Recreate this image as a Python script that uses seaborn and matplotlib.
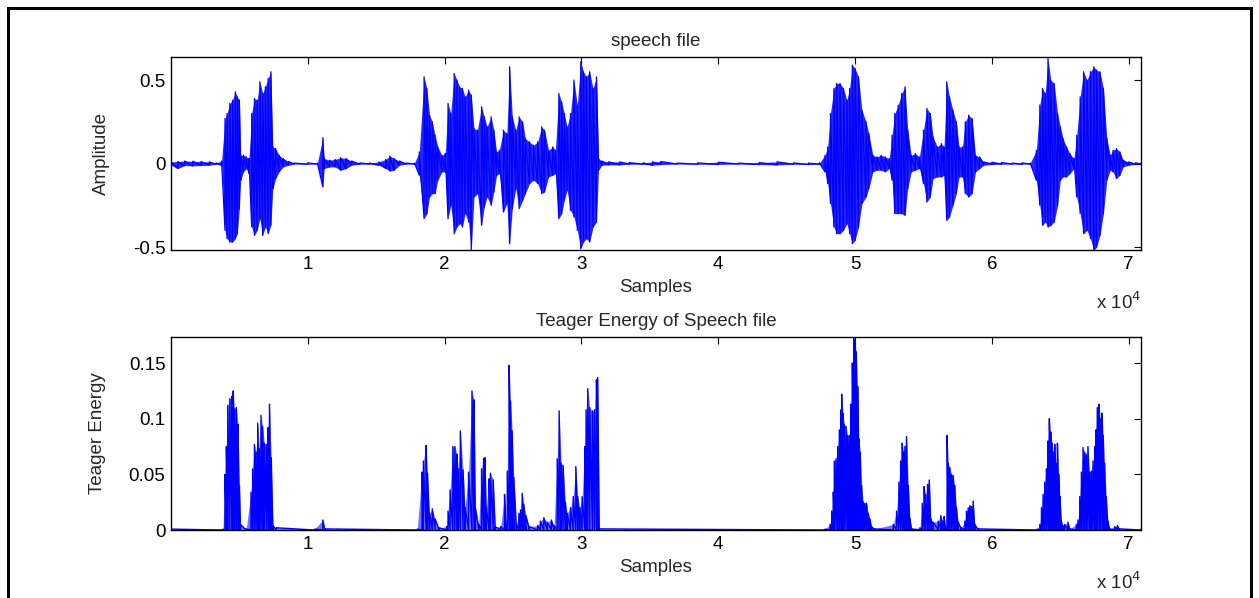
import matplotlib
matplotlib.use("Agg")
from matplotlib import pyplot as plt
from matplotlib.patches import Rectangle
import seaborn as sns
import pandas as pd
import numpy as np

# speech waveform envelope: sample index, upper and lower swing
wave_x = [0, 500, 1000, 1600, 2200, 2800, 3300, 3700,
          3950, 4100, 4300, 4500, 4700, 4850, 5000, 5100,
          5300, 5500, 5700,
          5900, 6100, 6300, 6500, 6700, 6900, 7100, 7300, 7450, 7650, 7900, 8200, 8600, 9000, 10000, 10700,
          11100, 11200,
          11600, 12000, 12400, 12800, 13200, 13800, 14500, 15200, 15700, 16000, 16300, 16700, 17200, 17800,
          18150, 18500, 18700, 18900, 19100, 19300, 19500, 19800, 20050, 20250,
          20450, 20700, 20900, 21100, 21300, 21500, 21750, 21950, 22150, 22400,
          22700, 22900, 23100, 23400, 23600, 23800, 24000, 24300, 24550, 24750,
          24950, 25200, 25450, 25700, 25900, 26200, 26500, 26800, 27100, 27300,
          27600, 27900, 28100, 28350, 28550, 28750, 28950, 29200, 29450, 29700,
          29950, 30150, 30350, 30600, 30850, 31100, 31250, 31500, 32000, 32800,
          33500,
          34500, 35200, 35800, 37000, 38500, 40000, 41500, 43000, 44300, 45500, 46600, 47400,
          47800, 48000, 48200, 48450, 48650, 48900, 49150, 49400, 49600, 49800,
          50000, 50250, 50500, 50800, 51000, 51300, 51600, 51900, 52200, 52500,
          52700, 52900, 53150, 53400, 53650, 53850, 54100, 54400, 54700, 55000,
          55250, 55500, 55700, 56000, 56300, 56500, 56700, 56900, 57150, 57400,
          57600, 57850, 58050, 58300, 58550, 58800, 59100, 59400, 60000, 60700,
          61500, 62200, 62800,
          63250, 63500, 63700, 63900, 64100, 64300, 64550, 64800, 65000, 65200,
          65450, 65700, 66000, 66200, 66450, 66700, 66950, 67200, 67450, 67650,
          67900, 68150, 68400, 68650, 68850, 69100, 69350, 69600, 70000, 70500,
          70900]
wave_hi = [0.010, 0.012, 0.015, 0.014, 0.012, 0.010, 0.004, 0.015,
           0.27, 0.30, 0.36, 0.38, 0.43, 0.40, 0.38, 0.05,
           0.05, 0.04, 0.03,
           0.30, 0.39, 0.38, 0.49, 0.42, 0.46, 0.51, 0.55, 0.10, 0.09, 0.05, 0.03, 0.012, 0.003, 0.004, 0.003,
           0.155, 0.03,
           0.020, 0.025, 0.035, 0.030, 0.015, 0.004, 0.003, 0.010, 0.025, 0.045, 0.030, 0.015, 0.003, 0.003,
           0.07, 0.52, 0.45, 0.29, 0.25, 0.17, 0.10, 0.05, 0.06, 0.36,
           0.30, 0.54, 0.50, 0.46, 0.45, 0.40, 0.44, 0.41, 0.21, 0.20,
           0.34, 0.28, 0.22, 0.28, 0.20, 0.07, 0.08, 0.20, 0.18, 0.58,
           0.28, 0.20, 0.28, 0.25, 0.15, 0.13, 0.11, 0.13, 0.22, 0.20,
           0.08, 0.10, 0.08, 0.42, 0.37, 0.30, 0.22, 0.30, 0.50, 0.35,
           0.61, 0.55, 0.52, 0.55, 0.45, 0.52, 0.03, 0.015, 0.010, 0.010,
           0.006,
           0.004, 0.010, 0.012, 0.003, 0.004, 0.008, 0.003, 0.006, 0.010, 0.004, 0.003, 0.004,
           0.05, 0.10, 0.30, 0.45, 0.48, 0.48, 0.45, 0.38, 0.45, 0.59,
           0.57, 0.52, 0.32, 0.25, 0.18, 0.05, 0.04, 0.05, 0.04, 0.03,
           0.17, 0.30, 0.35, 0.42, 0.46, 0.20, 0.05, 0.06, 0.04, 0.20,
           0.33, 0.30, 0.16, 0.10, 0.12, 0.10, 0.49, 0.40, 0.32, 0.25,
           0.10, 0.10, 0.25, 0.29, 0.27, 0.05, 0.04, 0.010, 0.008, 0.006,
           0.003, 0.004, 0.003,
           0.08, 0.35, 0.45, 0.42, 0.63, 0.50, 0.48, 0.30, 0.22, 0.15,
           0.10, 0.06, 0.03, 0.17, 0.40, 0.55, 0.50, 0.55, 0.58, 0.56,
           0.55, 0.45, 0.15, 0.05, 0.08, 0.09, 0.07, 0.02, 0.010, 0.005,
           0.003]
wave_lo = [-0.010, -0.030, -0.012, -0.014, -0.012, -0.010, -0.004, -0.010,
           -0.40, -0.45, -0.47, -0.47, -0.45, -0.42, -0.27, -0.10,
           -0.05, -0.03, -0.06,
           -0.38, -0.43, -0.40, -0.33, -0.43, -0.38, -0.42, -0.37, -0.15, -0.09, -0.05, -0.02, -0.010, -0.003, -0.004, -0.003,
           -0.14, -0.03,
           -0.020, -0.020, -0.040, -0.030, -0.010, -0.004, -0.003, -0.010, -0.030, -0.045, -0.040, -0.010, -0.003, -0.003,
           -0.07, -0.33, -0.30, -0.20, -0.18, -0.18, -0.10, -0.05, -0.05, -0.33,
           -0.25, -0.42, -0.38, -0.36, -0.38, -0.30, -0.35, -0.52, -0.20, -0.18,
           -0.37, -0.26, -0.20, -0.25, -0.17, -0.07, -0.06, -0.29, -0.24, -0.48,
           -0.27, -0.15, -0.27, -0.22, -0.18, -0.12, -0.10, -0.12, -0.18, -0.17,
           -0.08, -0.07, -0.06, -0.33, -0.30, -0.22, -0.16, -0.28, -0.32, -0.40,
           -0.51, -0.47, -0.45, -0.47, -0.38, -0.35, -0.04, -0.010, -0.008, -0.008,
           -0.004,
           -0.004, -0.010, -0.006, -0.003, -0.004, -0.005, -0.003, -0.006, -0.008, -0.004, -0.006, -0.004,
           -0.05, -0.12, -0.24, -0.38, -0.42, -0.42, -0.40, -0.36, -0.42, -0.48,
           -0.46, -0.38, -0.24, -0.20, -0.15, -0.05, -0.04, -0.04, -0.05, -0.03,
           -0.10, -0.30, -0.30, -0.30, -0.31, -0.15, -0.05, -0.04, -0.03, -0.12,
           -0.23, -0.20, -0.09, -0.08, -0.08, -0.07, -0.34, -0.32, -0.25, -0.18,
           -0.08, -0.08, -0.18, -0.20, -0.18, -0.05, -0.03, -0.010, -0.006, -0.004,
           -0.003, -0.004, -0.003,
           -0.10, -0.25, -0.37, -0.35, -0.38, -0.37, -0.35, -0.25, -0.10, -0.08,
           -0.08, -0.06, -0.03, -0.20, -0.30, -0.42, -0.40, -0.45, -0.52, -0.50,
           -0.43, -0.30, -0.10, -0.04, -0.05, -0.09, -0.07, -0.02, -0.010, -0.005,
           -0.003]

# teager energy peaks
teo_x = [0, 3800, 3950, 4050, 4150, 4300, 4450, 4550, 4650, 4780,
         4900, 5000, 5080, 5500, 5850, 5970, 6100, 6220, 6340, 6460,
         6580, 6700, 6820, 6970, 7100, 7200, 7330, 7450, 7700, 10500,
         11100, 11250, 18000, 18350, 18450, 18650, 18750, 18900, 19100, 19300,
         19600, 20150, 20250, 20400, 20600, 20750, 20900, 21000, 21150, 21350,
         21500, 21750, 22000, 22150, 22250, 22500, 22700, 22850, 22950, 23050,
         23250, 23350, 23550, 23700, 24100, 24380, 24480, 24580, 24720, 24820,
         24940, 25060, 25250, 25430, 25550, 25670, 25790, 25940, 26200, 26800,
         27000, 27250, 27500, 27800, 28000, 28230, 28370, 28520, 28660, 28830,
         28960, 29200, 29400, 29590, 29730, 29880, 30050, 30250, 30340, 30460,
         30610, 30800, 30950, 31100, 31190, 31300, 47800, 48170, 48290, 48410,
         48480, 48610, 48730, 48850, 48970, 49020, 49120, 49210, 49340, 49460,
         49550, 49630, 49700, 49800, 49900, 49990, 50090, 50190, 50280, 50380,
         50480, 50600, 50720, 50840, 50970, 51090, 51210, 51450, 52790, 53030,
         53200, 53330, 53450, 53550, 53640, 53760, 53890, 54010, 54130, 54740,
         54910, 55050, 55150, 55300, 55420, 55540, 55710, 56080, 56270, 56390,
         56510, 56610, 56730, 56810, 56930, 57050, 57170, 57290, 57410, 57540,
         57780, 58020, 58140, 58270, 58390, 58510, 58630, 58750, 59000, 63300,
         63500, 63620, 63740, 63860, 63980, 64100, 64200, 64300, 64400, 64490,
         64590, 64690, 64790, 64880, 64980, 65080, 65200, 65320, 65560, 65690,
         66170, 66290, 66420, 66540, 66660, 66780, 66900, 67020, 67150, 67270,
         67390, 67510, 67610, 67700, 67830, 67920, 68050, 68140, 68240, 68360,
         68480, 68610, 68970, 69170, 69340, 70900]
teo_y = [0.0008, 0.0008, 0.050, 0.075, 0.112, 0.118, 0.120, 0.125, 0.109, 0.110,
         0.095, 0.040, 0.005, 0.001, 0.034, 0.055, 0.077, 0.070, 0.096, 0.073,
         0.103, 0.093, 0.078, 0.077, 0.092, 0.113, 0.065, 0.004, 0.002, 0.0008,
         0.009, 0.001, 0.0008, 0.052, 0.062, 0.076, 0.051, 0.015, 0.019, 0.010,
         0.002, 0.003, 0.017, 0.036, 0.075, 0.075, 0.068, 0.055, 0.089, 0.054,
         0.020, 0.052, 0.125, 0.117, 0.020, 0.005, 0.055, 0.064, 0.065, 0.020,
         0.046, 0.051, 0.045, 0.003, 0.003, 0.032, 0.005, 0.053, 0.148, 0.116,
         0.089, 0.047, 0.005, 0.015, 0.018, 0.033, 0.023, 0.013, 0.003, 0.004,
         0.008, 0.011, 0.007, 0.009, 0.004, 0.064, 0.107, 0.060, 0.058, 0.025,
         0.015, 0.020, 0.030, 0.057, 0.030, 0.020, 0.030, 0.075, 0.108, 0.127,
         0.110, 0.107, 0.108, 0.135, 0.137, 0.001, 0.0008, 0.005, 0.017, 0.034,
         0.062, 0.064, 0.075, 0.090, 0.108, 0.122, 0.105, 0.095, 0.093, 0.085,
         0.075, 0.085, 0.113, 0.150, 0.172, 0.170, 0.160, 0.129, 0.082, 0.070,
         0.040, 0.025, 0.024, 0.024, 0.015, 0.010, 0.003, 0.001, 0.005, 0.017,
         0.043, 0.062, 0.078, 0.070, 0.075, 0.084, 0.040, 0.010, 0.001, 0.002,
         0.024, 0.039, 0.032, 0.041, 0.045, 0.010, 0.007, 0.008, 0.013, 0.008,
         0.012, 0.003, 0.085, 0.060, 0.056, 0.050, 0.049, 0.040, 0.020, 0.007,
         0.002, 0.008, 0.017, 0.020, 0.022, 0.021, 0.026, 0.005, 0.001, 0.0008,
         0.005, 0.020, 0.032, 0.043, 0.055, 0.080, 0.100, 0.088, 0.078, 0.070,
         0.077, 0.060, 0.078, 0.050, 0.030, 0.008, 0.004, 0.005, 0.007, 0.001,
         0.005, 0.009, 0.030, 0.052, 0.074, 0.070, 0.068, 0.075, 0.052, 0.053,
         0.062, 0.075, 0.090, 0.110, 0.113, 0.100, 0.105, 0.085, 0.060, 0.030,
         0.008, 0.001, 0.003, 0.004, 0.001, 0.0008]

x_ticks = [10000, 20000, 30000, 40000, 50000, 60000, 70000]
x_ticklabels = ["1", "2", "3", "4", "5", "6", "7"]
amp_ticks = [-0.5, 0, 0.5]
amp_ticklabels = ["-0.5", "0", "0.5"]
teo_ticks = [0, 0.05, 0.1, 0.15]
teo_ticklabels = ["0", "0.05", "0.1", "0.15"]

assert len(wave_x) == len(wave_hi) == len(wave_lo)
assert len(teo_x) == len(teo_y)

# zigzag: swing lo->hi at each sample, then on to the next one
wave_df = pd.DataFrame({
    "x": np.repeat(wave_x, 2),
    "y": np.column_stack([wave_lo, wave_hi]).ravel(),
})
teo_df = pd.DataFrame({
    "x": np.repeat(teo_x, 2),
    "y": np.column_stack([np.zeros(len(teo_y)), teo_y]).ravel(),
})

sns.set_style("white")
plt.rcParams["font.family"] = ["Liberation Sans", "DejaVu Sans"]
FS = 13.5

fig = plt.figure(figsize=(12.59, 5.98), dpi=100)
ax1 = fig.add_axes([0.1358, 0.5819, 0.7705, 0.3227])
ax2 = fig.add_axes([0.1358, 0.1137, 0.7705, 0.3227])

ax1.fill_between(wave_x, wave_lo, wave_hi, color="blue", alpha=0.85, lw=0)
sns.lineplot(data=wave_df, x="x", y="y", sort=False, estimator=None,
             color="blue", lw=0.9, ax=ax1)
ax2.fill_between(teo_x, 0, teo_y, color="blue", alpha=0.55, lw=0)
sns.lineplot(data=teo_df, x="x", y="y", sort=False, estimator=None,
             color="blue", lw=1.0, ax=ax2)

ax1.set_ylim(-0.518, 0.638)
ax2.set_ylim(0, 0.1734)
ax1.set_yticks(amp_ticks, amp_ticklabels)
ax2.set_yticks(teo_ticks, teo_ticklabels)

titles = ["speech file", "Teager Energy of Speech file"]
ylabels = ["Amplitude", "Teager Energy"]
ylabel_x = [-0.063, -0.067]
for ax, title, ylab, lx in zip([ax1, ax2], titles, ylabels, ylabel_x):
    ax.set_xlim(1, 70900)
    ax.set_xticks(x_ticks, x_ticklabels)
    ax.set_title(title, fontsize=FS, pad=8)
    ax.set_xlabel("Samples", fontsize=FS)
    ax.set_ylabel(ylab, fontsize=FS)
    ax.xaxis.set_label_coords(0.5, -0.15)
    ax.yaxis.set_label_coords(lx, 0.5)
    ax.tick_params(direction="in", top=True, right=True, length=5,
                   width=0.8, labelsize=FS, colors="black", pad=4)
    for sp in ax.spines.values():
        sp.set_color("black")
        sp.set_linewidth(1.0)
    ax.text(1.0, -0.27, r"x 10$^{4}$", transform=ax.transAxes,
            ha="right", va="center", fontsize=FS)

# outer frame like the exported figure window
fig.patches.append(Rectangle((8 / 1259, -0.1), 1243 / 1259, 1.1 - 8 / 598,
                             transform=fig.transFigure, fill=False,
                             edgecolor="black", lw=2.2))

fig.savefig("out.png", dpi=100)
